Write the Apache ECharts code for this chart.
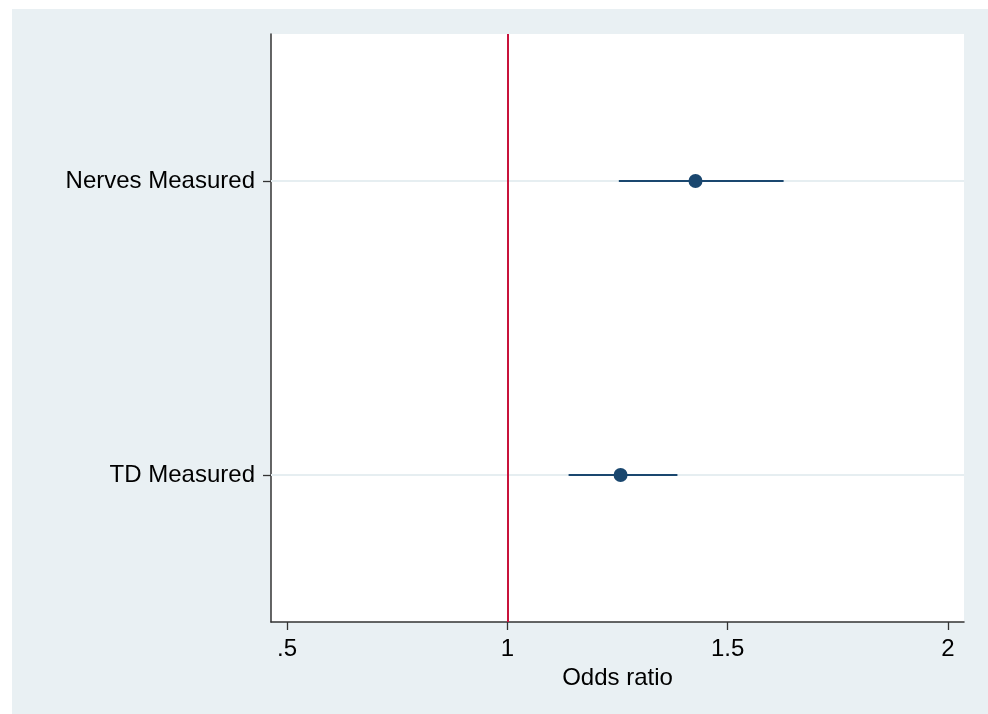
<!DOCTYPE html>
<html>
<head>
<meta charset="utf-8">
<script src="https://cdn.jsdelivr.net/npm/echarts@6/dist/echarts.min.js"></script>
<style>
html,body{margin:0;padding:0;background:#fff;}
#chart{width:988px;height:714px;}
</style>
</head>
<body>
<div id="chart"></div>
<script>
var categories = ['TD Measured', 'Nerves Measured'];
var estimates = [1.257, 1.427];
var lower = [1.139, 1.253];
var upper = [1.386, 1.627];
var xTicks = [0.5, 1, 1.5, 2];
var xTickLabels = ['.5', '1', '1.5', '2'];
var refValue = 1;

var FONT = '"Liberation Sans", Arial, Helvetica, sans-serif';
var NAVY = '#1a476f';

var chart = echarts.init(document.getElementById('chart'), null, {renderer: 'canvas'});

var series = [];
series.push({
  type: 'line', data: [], silent: true, z: 1,
  markLine: {
    silent: true, symbol: ['none', 'none'], label: {show: false},
    lineStyle: {color: '#e6eef1', width: 2, type: 'solid'},
    data: categories.map(function (c) { return {yAxis: c}; })
  }
});
series.push({
  type: 'line', data: [], silent: true, z: 3,
  markLine: {
    silent: true, symbol: ['none', 'none'], label: {show: false},
    lineStyle: {color: '#c8133b', width: 2, type: 'solid'},
    data: [{xAxis: refValue}]
  }
});
series.push({
  type: 'line', data: [], silent: true, z: 4,
  markLine: {
    silent: true, symbol: ['none', 'none'], label: {show: false},
    lineStyle: {color: NAVY, width: 2.2, type: 'solid'},
    data: categories.map(function (c, i) {
      return [{coord: [lower[i], c]}, {coord: [upper[i], c]}];
    })
  }
});
series.push({
  type: 'scatter', z: 5, symbolSize: 14, silent: true,
  itemStyle: {color: NAVY, opacity: 1},
  data: categories.map(function (c, i) { return [estimates[i], c]; })
});

chart.setOption({
  animation: false,
  backgroundColor: '#ffffff',
  graphic: [{
    type: 'rect', z: -10, silent: true,
    shape: {x: 12, y: 9, width: 976, height: 705},
    style: {fill: '#e9f0f3'}
  }],
  grid: {
    left: 271, top: 34, right: 24, bottom: 92,
    show: true, backgroundColor: '#ffffff', borderWidth: 0
  },
  xAxis: {
    type: 'value', min: 0.4636, max: 2.0364,
    name: 'Odds ratio', nameLocation: 'middle', nameGap: 43,
    nameTextStyle: {fontFamily: FONT, fontSize: 24, color: '#000'},
    axisLine: {show: true, lineStyle: {color: '#333', width: 1.5}},
    axisTick: {show: true, customValues: xTicks, length: 8, lineStyle: {color: '#333', width: 1.3}},
    axisLabel: {
      show: true, customValues: xTicks, margin: 15,
      fontFamily: FONT, fontSize: 24, color: '#000',
      formatter: function (v) {
        var idx = xTicks.indexOf(v);
        return idx >= 0 ? xTickLabels[idx] : '';
      }
    },
    splitLine: {show: false}
  },
  yAxis: {
    type: 'category', data: categories, boundaryGap: true,
    axisLine: {show: true, lineStyle: {color: '#333', width: 1.5}},
    axisTick: {show: true, alignWithLabel: true, length: 8, lineStyle: {color: '#333', width: 1.3}},
    axisLabel: {margin: 16, fontFamily: FONT, fontSize: 24, color: '#000', padding: [10, 0, 0, 0]},
    splitLine: {show: false}
  },
  series: series
});
</script>
</body>
</html>
